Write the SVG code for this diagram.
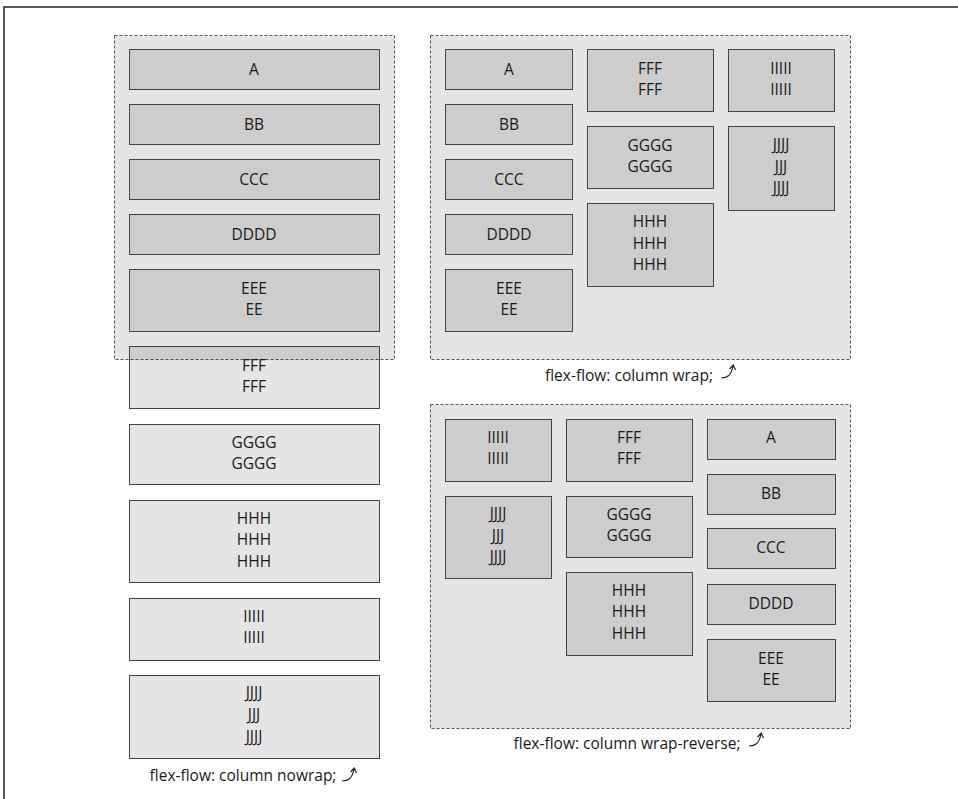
<svg xmlns="http://www.w3.org/2000/svg" width="958" height="799" viewBox="0 0 958 799">
<style>
.frame{fill:none;stroke:#222;stroke-width:1.5}
.cont{fill:rgba(0,0,0,0.1);stroke:#555;stroke-width:1;stroke-dasharray:3 2}
.item{fill:rgba(0,0,0,0.1);stroke:#444;stroke-width:1}
text{font-family:"Open Sans","Noto Sans",sans-serif;font-size:15.5px;fill:#1a1a1a;text-anchor:middle}
.lbl{font-size:15.5px}
.arr{fill:none;stroke:#222;stroke-width:1.2}
</style>
<defs>
<path id="arw" d="M0 13 C6 13 10 11 12 1 M8.5 4 L12.2 0 L14.5 5"/>
</defs>
<path class="frame" d="M4 799 V7 H958"/>

<g id="nowrap">
<rect class="cont" x="114.5" y="35.5" width="280" height="324"/>
<g id="nw-A"><rect class="item" x="129.5" y="49.5" width="250" height="40"/><text x="254" y="75">A</text></g>
<g id="nw-B"><rect class="item" x="129.5" y="104.5" width="250" height="40"/><text x="254" y="130">BB</text></g>
<g id="nw-C"><rect class="item" x="129.5" y="159.5" width="250" height="40"/><text x="254" y="185">CCC</text></g>
<g id="nw-D"><rect class="item" x="129.5" y="214.5" width="250" height="40"/><text x="254" y="240">DDDD</text></g>
<g id="nw-E"><rect class="item" x="129.5" y="269.5" width="250" height="62"/><text x="254" y="294">EEE</text><text x="254" y="315">EE</text></g>
<g id="nw-F"><rect class="item" x="129.5" y="346.5" width="250" height="62"/><text x="254" y="371">FFF</text><text x="254" y="392">FFF</text></g>
<g id="nw-G"><rect class="item" x="129.5" y="424.5" width="250" height="60"/><text x="254" y="448">GGGG</text><text x="254" y="469">GGGG</text></g>
<g id="nw-H"><rect class="item" x="129.5" y="500.5" width="250" height="82"/><text x="254" y="524">HHH</text><text x="254" y="545">HHH</text><text x="254" y="567">HHH</text></g>
<g id="nw-I"><rect class="item" x="129.5" y="598.5" width="250" height="62"/><text x="254" y="622">IIIII</text><text x="254" y="643">IIIII</text></g>
<g id="nw-J"><rect class="item" x="129.5" y="675.5" width="250" height="83"/><text x="254" y="698">JJJJ</text><text x="254" y="720">JJJ</text><text x="254" y="742">JJJJ</text></g>
<text class="lbl" x="243" y="781">flex-flow: column nowrap;</text>
<use href="#arw" class="arr" x="342" y="768"/>
</g>

<g id="wrap">
<rect class="cont" x="430.5" y="35.5" width="420" height="324"/>
<g id="w-A"><rect class="item" x="445.5" y="49.5" width="127" height="40"/><text x="509" y="75">A</text></g>
<g id="w-B"><rect class="item" x="445.5" y="104.5" width="127" height="40"/><text x="509" y="130">BB</text></g>
<g id="w-C"><rect class="item" x="445.5" y="159.5" width="127" height="40"/><text x="509" y="185">CCC</text></g>
<g id="w-D"><rect class="item" x="445.5" y="214.5" width="127" height="40"/><text x="509" y="240">DDDD</text></g>
<g id="w-E"><rect class="item" x="445.5" y="269.5" width="127" height="62"/><text x="509" y="294">EEE</text><text x="509" y="315">EE</text></g>
<g id="w-F"><rect class="item" x="587.5" y="49.5" width="126" height="62"/><text x="650" y="74">FFF</text><text x="650" y="95">FFF</text></g>
<g id="w-G"><rect class="item" x="587.5" y="126.5" width="126" height="62"/><text x="650" y="151">GGGG</text><text x="650" y="172">GGGG</text></g>
<g id="w-H"><rect class="item" x="587.5" y="203.5" width="126" height="83"/><text x="650" y="227">HHH</text><text x="650" y="249">HHH</text><text x="650" y="270">HHH</text></g>
<g id="w-I"><rect class="item" x="728.5" y="49.5" width="106" height="62"/><text x="781" y="74">IIIII</text><text x="781" y="95">IIIII</text></g>
<g id="w-J"><rect class="item" x="728.5" y="126.5" width="106" height="84"/><text x="781" y="150">JJJJ</text><text x="781" y="172">JJJ</text><text x="781" y="193">JJJJ</text></g>
<text class="lbl" x="629" y="381">flex-flow: column wrap;</text>
<use href="#arw" class="arr" x="721" y="365"/>
</g>

<g id="wrapreverse">
<rect class="cont" x="430.5" y="404.5" width="420" height="324"/>
<g id="wr-I"><rect class="item" x="445.5" y="419.5" width="106" height="62"/><text x="498" y="443">IIIII</text><text x="498" y="464">IIIII</text></g>
<g id="wr-J"><rect class="item" x="445.5" y="496.5" width="106" height="82"/><text x="498" y="519">JJJJ</text><text x="498" y="541">JJJ</text><text x="498" y="562">JJJJ</text></g>
<g id="wr-F"><rect class="item" x="566.5" y="419.5" width="126" height="62"/><text x="629" y="443">FFF</text><text x="629" y="464">FFF</text></g>
<g id="wr-G"><rect class="item" x="566.5" y="496.5" width="126" height="61"/><text x="629" y="520">GGGG</text><text x="629" y="541">GGGG</text></g>
<g id="wr-H"><rect class="item" x="566.5" y="572.5" width="126" height="83"/><text x="629" y="596">HHH</text><text x="629" y="617">HHH</text><text x="629" y="639">HHH</text></g>
<g id="wr-A"><rect class="item" x="707.5" y="419.5" width="128" height="40"/><text x="771" y="443">A</text></g>
<g id="wr-B"><rect class="item" x="707.5" y="474.5" width="128" height="40"/><text x="771" y="499">BB</text></g>
<g id="wr-C"><rect class="item" x="707.5" y="528.5" width="128" height="40"/><text x="771" y="553">CCC</text></g>
<g id="wr-D"><rect class="item" x="707.5" y="584.5" width="128" height="40"/><text x="771" y="609">DDDD</text></g>
<g id="wr-E"><rect class="item" x="707.5" y="639.5" width="128" height="62"/><text x="771" y="664">EEE</text><text x="771" y="685">EE</text></g>
<text class="lbl" x="627" y="749">flex-flow: column wrap-reverse;</text>
<use href="#arw" class="arr" x="749" y="733"/>
</g>
</svg>
